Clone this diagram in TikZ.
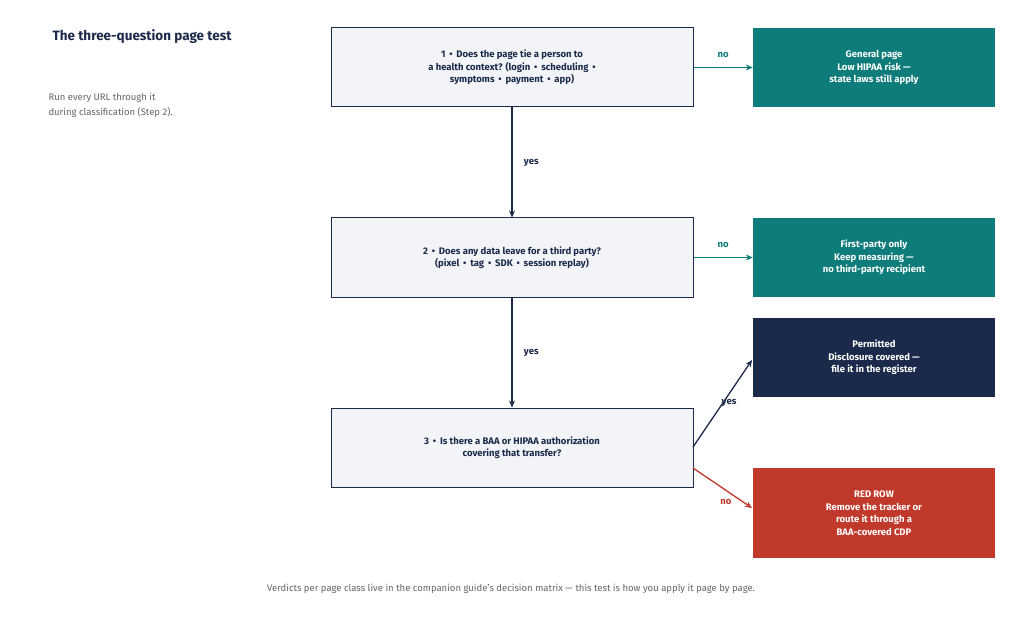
\documentclass[tikz,border=0pt]{standalone}
\usepackage{fontspec}
\setmainfont{Fira Sans}
\usetikzlibrary{arrows.meta}
\definecolor{teal}{HTML}{0E7C7B}
\definecolor{navy}{HTML}{1B2A4A}
\definecolor{redc}{HTML}{C0392B}
\definecolor{qfill}{HTML}{F2F4F7}
\definecolor{gr}{HTML}{666666}
\begin{document}
\begin{tikzpicture}[x=1pt,y=-1pt,
 q/.style={draw=navy,line width=1pt,fill=qfill,minimum width=362pt,minimum height=79pt,align=center,font=\fontsize{9.5}{12.5}\selectfont\bfseries,text=navy},
 v/.style={fill=#1,minimum width=242pt,minimum height=79pt,align=center,font=\fontsize{9.5}{12.5}\selectfont\bfseries,text=white},
 ar/.style={line width=1.3pt,-{Stealth[length=7pt,width=6pt]}},
 lb/.style={font=\fontsize{9.5}{12}\selectfont\bfseries}]
\useasboundingbox (0,0) rectangle (1024,617);
\fill[white] (0,0) rectangle (1024,617);
\node[anchor=west,font=\fontsize{13.5}{16}\selectfont\bfseries,text=navy] (t) at (49,37) {The three-question page test};
\node[anchor=north west,align=left,font=\fontsize{9.5}{15}\selectfont,text=gr] (s) at (45,90) {Run every URL through it\\during classification (Step 2).};
\node[q] (q1) at (512,67.5) {1 \,•\, Does the page tie a person to\\a health context? (login \,•\, scheduling \,•\\symptoms \,•\, payment \,•\, app)};
\node[q] (q2) at (512,257.5) {2 \,•\, Does any data leave for a third party?\\(pixel \,•\, tag \,•\, SDK \,•\, session replay)};
\node[q] (q3) at (512,447.5) {3 \,•\, Is there a BAA or HIPAA authorization\\covering that transfer?};
\node[v=teal] (g1) at (874,67.5) {General page\\Low HIPAA risk —\\state laws still apply};
\node[v=teal] (g2) at (874,257.5) {First-party only\\Keep measuring —\\no third-party recipient};
\node[v=navy] (p) at (874,357.5) {Permitted\\Disclosure covered —\\file it in the register};
\node[v=redc,minimum height=90pt] (r) at (874,513) {RED ROW\\Remove the tracker or\\route it through a\\BAA-covered CDP};
\draw[ar,navy] (q1.south) -- (q2.north) node[midway,right=8pt,lb,text=navy]{yes};
\draw[ar,navy] (q2.south) -- (q3.north) node[midway,right=8pt,lb,text=navy]{yes};
\draw[ar,teal] (q1.east) -- (g1.west) node[midway,above=6pt,lb,text=teal]{no};
\draw[ar,teal] (q2.east) -- (g2.west) node[midway,above=6pt,lb,text=teal]{no};
\coordinate (pin) at (752,360);
\coordinate (rin) at (752,508);
\draw[ar,navy] (693,447) -- (pin);
\draw[ar,redc] (693,468) -- (rin);
\node[lb,text=navy] (ly) at (729,403) {yes};
\node[lb,text=redc] (ln) at (726,502) {no};
\node[font=\fontsize{9.5}{12}\selectfont,text=gr] (f) at (511,589) {Verdicts per page class live in the companion guide's decision matrix — this test is how you apply it page by page.};
\end{tikzpicture}
\end{document}
